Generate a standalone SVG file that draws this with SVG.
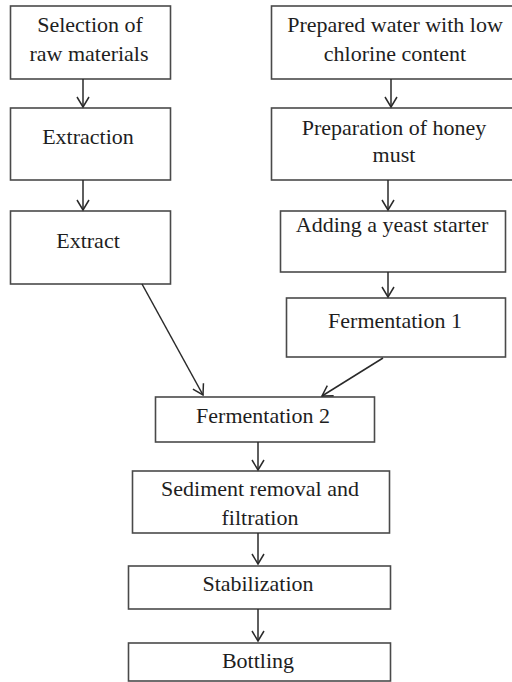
<svg xmlns="http://www.w3.org/2000/svg" width="512" height="682" viewBox="0 0 512 682">
<style>
.box{fill:#fff;stroke:#4a4a4a;stroke-width:1.6}
.lbl{font-family:"Liberation Serif","Times New Roman",serif;font-size:22px;fill:#1e1e1e;text-anchor:middle}
.con{stroke:#2a2a2a;stroke-width:1.5;fill:none;marker-end:url(#ah)}
</style>
<defs>
<marker id="ah" markerUnits="userSpaceOnUse" markerWidth="16" markerHeight="16" viewBox="0 0 16 16" refX="11" refY="8" orient="auto" overflow="visible">
<path d="M1,2 L11,8 L1,14" fill="none" stroke="#2a2a2a" stroke-width="1.5"/>
</marker>
</defs>
<rect width="512" height="682" fill="#fff"/>
<g id="selection">
<rect class="box" x="10.5" y="6" width="160" height="73"/>
<text class="lbl" x="90" y="32">Selection of</text>
<text class="lbl" x="89" y="61">raw materials</text>
</g>
<g id="extraction">
<rect class="box" x="10.5" y="108" width="160" height="72"/>
<text class="lbl" x="88" y="144">Extraction</text>
</g>
<g id="extract">
<rect class="box" x="10.5" y="211" width="160" height="73"/>
<text class="lbl" x="88" y="248">Extract</text>
</g>
<g id="water">
<rect class="box" x="271.5" y="6" width="260" height="73"/>
<text class="lbl" x="395" y="32">Prepared water with low</text>
<text class="lbl" x="395" y="61">chlorine content</text>
</g>
<g id="must">
<rect class="box" x="271.5" y="108" width="260" height="72"/>
<text class="lbl" x="394" y="135">Preparation of honey</text>
<text class="lbl" x="394" y="162">must</text>
</g>
<g id="yeast">
<rect class="box" x="280.5" y="211" width="225" height="61"/>
<text class="lbl" x="392" y="232">Adding a yeast starter</text>
</g>
<g id="ferm1">
<rect class="box" x="286.5" y="298" width="219" height="59"/>
<text class="lbl" x="395" y="328">Fermentation 1</text>
</g>
<g id="ferm2">
<rect class="box" x="155.5" y="397" width="219" height="45"/>
<text class="lbl" x="263" y="423">Fermentation 2</text>
</g>
<g id="sediment">
<rect class="box" x="132.5" y="471" width="257" height="62"/>
<text class="lbl" x="260" y="496">Sediment removal and</text>
<text class="lbl" x="260" y="525">filtration</text>
</g>
<g id="stabilization">
<rect class="box" x="128.5" y="566" width="262" height="43"/>
<text class="lbl" x="258" y="591">Stabilization</text>
</g>
<g id="bottling">
<rect class="box" x="128.5" y="643" width="262" height="38"/>
<text class="lbl" x="258" y="668">Bottling</text>
</g>
<g id="connectors">
<line class="con" x1="83" y1="79" x2="83" y2="107"/>
<line class="con" x1="83" y1="180" x2="83" y2="210"/>
<line class="con" x1="391" y1="79" x2="391" y2="107"/>
<line class="con" x1="388" y1="180" x2="388" y2="210"/>
<line class="con" x1="388" y1="272" x2="388" y2="297"/>
<line class="con" x1="142" y1="284" x2="203" y2="395"/>
<line class="con" x1="383" y1="358" x2="322" y2="396"/>
<line class="con" x1="258" y1="442" x2="258" y2="470"/>
<line class="con" x1="258" y1="533" x2="258" y2="564"/>
<line class="con" x1="258" y1="609" x2="258" y2="641"/>
</g>
</svg>
